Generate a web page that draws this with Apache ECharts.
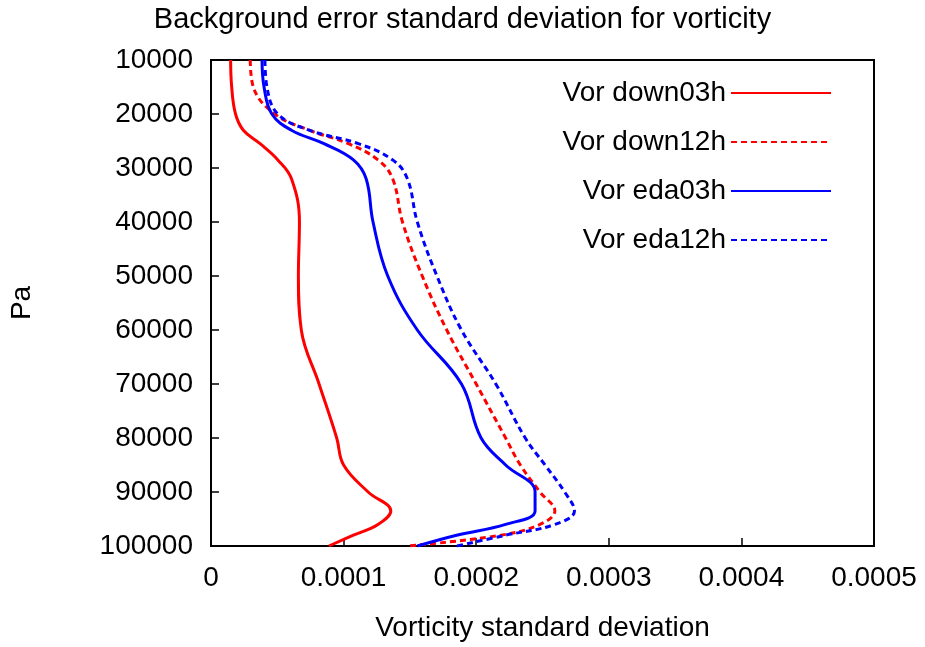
<!DOCTYPE html>
<html><head><meta charset="utf-8">
<script src="https://cdn.jsdelivr.net/npm/echarts@6/dist/echarts.min.js"></script>
<style>html,body{margin:0;padding:0;background:#fff}#c{width:925px;height:647px}</style>
</head><body><div id="c"></div>
<script>
const pressure = [10000,15000,20000,23000,25500,28500,32000,40000,50000,60000,70000,80000,85000,90000,93500,96000,98000,100000];
const vorDown03h = [0.0000148,0.0000156,0.0000185,0.0000244,0.000037,0.0000504,0.0000607,0.0000667,0.0000659,0.0000681,0.0000815,0.0000948,0.0001,0.0001185,0.0001356,0.0001259,0.0001074,0.0000889];
const vorDown12h = [0.0000296,0.0000319,0.0000481,0.0000741,0.0001037,0.0001259,0.000137,0.0001444,0.0001593,0.0001778,0.0002,0.0002222,0.0002333,0.0002481,0.0002593,0.0002481,0.0002185,0.0001481];
const vorEda03h = [0.0000385,0.00004,0.0000459,0.0000607,0.0000852,0.0001074,0.000117,0.0001222,0.0001333,0.0001556,0.0001889,0.0002037,0.0002222,0.0002444,0.0002444,0.0002222,0.0001852,0.0001556];
const vorEda12h = [0.0000407,0.0000422,0.0000504,0.0000741,0.0001111,0.000137,0.0001481,0.0001556,0.0001704,0.0001889,0.0002148,0.000237,0.0002519,0.0002667,0.0002741,0.0002593,0.0002222,0.0001852];

const font = 'Liberation Sans, Arial, sans-serif';
const fs = 28;
const chart = echarts.init(document.getElementById('c'));
const mk = (name, vals, color, type) => ({
  name, type: 'line', smooth: 0.4, showSymbol: false, symbol: 'none',
  data: vals.map((v, i) => [v, pressure[i]]),
  lineStyle: { color, width: 3, type }, itemStyle: { color }
});
chart.setOption({
  animation: false,
  title: { text: 'Background error standard deviation for vorticity', left: 'center', top: 0,
    textStyle: { fontFamily: font, fontWeight: 'normal', fontSize: 29, color: '#000' } },
  grid: { left: 200, right: 51, top: 60, bottom: 97, show: true, borderColor: '#000', borderWidth: 2 },
  legend: {
    right: 88, top: 74, orient: 'vertical', align: 'right', itemWidth: 100, itemHeight: 14, itemGap: 21,
    itemStyle: { opacity: 0 },
    textStyle: { fontFamily: font, fontSize: fs, color: '#000' },
    data: ['Vor down03h', 'Vor down12h', 'Vor eda03h', 'Vor eda12h']
  },
  xAxis: {
    type: 'value', min: 0, max: 0.0005, interval: 0.0001,
    name: 'Vorticity standard deviation', nameLocation: 'middle', nameGap: 68,
    nameTextStyle: { fontFamily: font, fontSize: fs, color: '#000' },
    axisLine: { show: false }, splitLine: { show: false },
    axisTick: { inside: true, length: 8, lineStyle: { color: '#000', width: 1.5 } },
    axisLabel: { fontFamily: font, fontSize: fs, color: '#000', margin: 18,
      formatter: v => v === 0 ? '0' : v.toFixed(4) }
  },
  yAxis: {
    type: 'value', inverse: true, min: 10000, max: 100000, interval: 10000,
    name: 'Pa', nameLocation: 'middle', nameGap: 175, nameRotate: 90,
    nameTextStyle: { fontFamily: font, fontSize: fs, color: '#000' },
    axisLine: { show: false }, splitLine: { show: false },
    axisTick: { inside: true, length: 8, lineStyle: { color: '#000', width: 1.5 } },
    axisLabel: { fontFamily: font, fontSize: fs, color: '#000', margin: 18, formatter: v => String(v) }
  },
  series: [
    mk('Vor down03h', vorDown03h, '#ff0000', 'solid'),
    mk('Vor down12h', vorDown12h, '#ff0000', [6, 4]),
    mk('Vor eda03h', vorEda03h, '#0000ff', 'solid'),
    mk('Vor eda12h', vorEda12h, '#0000ff', [6, 4])
  ]
});
</script></body></html>
